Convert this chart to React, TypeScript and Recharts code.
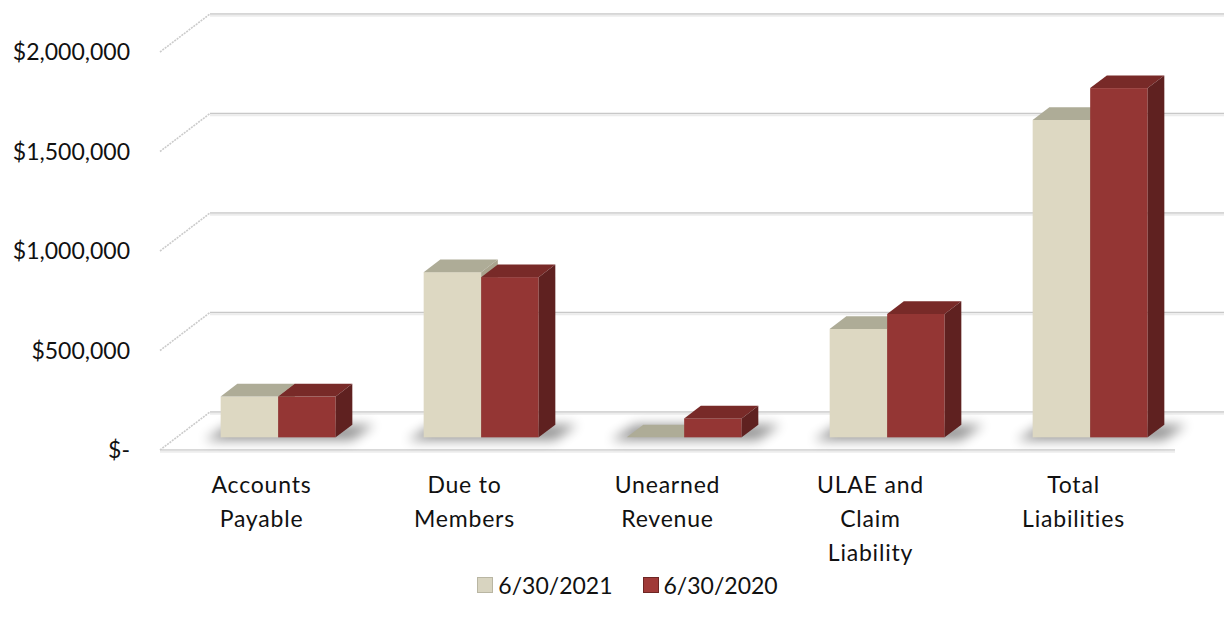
import { BarChart, Bar, XAxis, YAxis, CartesianGrid, Legend } from "recharts";

// categories (line breaks are where the axis label wraps)
const categories = [
  "Accounts\nPayable",
  "Due to\nMembers",
  "Unearned\nRevenue",
  "ULAE and\nClaim\nLiability",
  "Total\nLiabilities",
];
const values2021 = [205000, 830000, 0, 545000, 1595000];
const values2020 = [205000, 805000, 95000, 620000, 1755000];
const yTicks = [0, 500000, 1000000, 1500000, 2000000];
const seriesNames = ["6/30/2021", "6/30/2020"];

const data = categories.map((name, i) => ({
  name,
  y2021: values2021[i],
  y2020: values2020[i],
}));

const FONT = "Lato, 'Open Sans', sans-serif";
const W = 1224;
const H = 625;
const MARGIN = { top: 52, right: 49, bottom: 20, left: 0 };
const PLOT_BOTTOM = 450;

// oblique depth of walls/floor, bars sit in the middle third
const WALL_DX = 50;
const WALL_DY = 38;
const BAR_DX = WALL_DX / 3;
const BAR_DY = WALL_DY / 3;

const C2021 = { front: "#ddd8c2", top: "#aeac97", side: "#a9a48e" };
const C2020 = { front: "#943634", top: "#782a28", side: "#5f2120" };

function Box3D(props: any) {
  const { x, y, width, height, colors, shadow } = props;
  const h = Math.max(height || 0, 0);
  const fx = x + BAR_DX;
  const fy = y - BAR_DY;
  const by = fy + h;
  const tx = fx + BAR_DX;
  const ty = fy - BAR_DY;
  return (
    <g>
      {shadow && (
        <g>
          <defs>
            <filter id="floorShadow" x="-50%" y="-200%" width="200%" height="500%">
              <feGaussianBlur stdDeviation="6" />
            </filter>
          </defs>
          <polygon
            points={`${fx - 16},${by + 3} ${fx + 2 * width + 16},${by + 3} ${fx + 2 * width + BAR_DX + 22},${by - BAR_DY} ${fx + BAR_DX - 8},${by - BAR_DY}`}
            fill="#000"
            opacity={0.42}
            filter="url(#floorShadow)"
          />
        </g>
      )}
      {h > 0.5 && <rect x={fx} y={fy} width={width} height={h} fill={colors.front} />}
      <polygon
        points={`${fx},${fy} ${tx},${ty} ${tx + width},${ty} ${fx + width},${fy}`}
        fill={colors.top}
      />
      {h > 0.5 && (
        <polygon
          points={`${fx + width},${fy} ${tx + width},${ty} ${tx + width},${by - BAR_DY} ${fx + width},${by}`}
          fill={colors.side}
        />
      )}
    </g>
  );
}

function GridLine(props: any) {
  const { x1, x2, y1 } = props;
  const bx1 = x1 + WALL_DX;
  const bx2 = x2 + WALL_DX;
  const by = y1 - WALL_DY;
  const isFloor = Math.abs(y1 - PLOT_BOTTOM) < 1;
  return (
    <g>
      <line x1={x1} y1={y1} x2={bx1} y2={by} stroke="#cbcbcb" strokeWidth={1.6} strokeDasharray="2 1" />
      <line x1={bx1} y1={by} x2={bx2} y2={by} stroke="#c8c8c8" strokeWidth={1.5} />
      <line x1={bx1} y1={by + 1.8} x2={bx2} y2={by + 1.8} stroke="#ececec" strokeWidth={2} />
      {isFloor && (
        <g>
          <line x1={x1} y1={y1} x2={x2} y2={y1} stroke="#cccccc" strokeWidth={1.5} />
          <line x1={x1} y1={y1 + 1.8} x2={x2} y2={y1 + 1.8} stroke="#ededed" strokeWidth={2} />
        </g>
      )}
    </g>
  );
}

function CategoryTick(props: any) {
  const { x, y, payload } = props;
  const lines = String(payload.value).split("\n");
  return (
    <text x={x} y={y + 35} textAnchor="middle" fill="#111" fontSize={23} fontFamily={FONT} letterSpacing={0.8}>
      {lines.map((line, i) => (
        <tspan key={i} x={x} dy={i === 0 ? 0 : 34}>
          {line}
        </tspan>
      ))}
    </text>
  );
}

function LegendContent() {
  const swatches = [
    { name: seriesNames[0], fill: "#d8d4c0", edge: "#b9b6a3" },
    { name: seriesNames[1], fill: "#a03a38", edge: "#6e2624" },
  ];
  return (
    <div
      style={{
        display: "flex",
        justifyContent: "center",
        alignItems: "center",
        gap: 30,
        height: 40,
        paddingLeft: 80,
        fontFamily: FONT,
        fontSize: 23,
        color: "#111",
      }}
    >
      {swatches.map((s) => (
        <div key={s.name} style={{ display: "flex", alignItems: "center", gap: 5 }}>
          <div style={{ width: 14, height: 14, background: s.fill, border: `1px solid ${s.edge}` }} />
          <span>{s.name}</span>
        </div>
      ))}
    </div>
  );
}

export default function App() {
  return (
    <div style={{ position: "absolute", left: 0, top: 0, width: W, height: H, background: "#fff", fontFamily: FONT }}>
      <BarChart width={W} height={H} data={data} margin={MARGIN} barGap={0} barSize={57.5}>
        <CartesianGrid vertical={false} horizontal={(p: any) => <GridLine {...p} />} />
        <XAxis dataKey="name" axisLine={false} tickLine={false} interval={0} height={115} tick={<CategoryTick />} />
        <YAxis
          domain={[0, 2000000]}
          ticks={yTicks}
          width={160}
          axisLine={false}
          tickLine={false}
          tickSize={0}
          tickMargin={30}
          tick={{ fontSize: 23, fill: "#111", fontFamily: FONT }}
          tickFormatter={(v: number) => (v === 0 ? "$-" : "$" + v.toLocaleString("en-US"))}
        />
        <Legend verticalAlign="bottom" content={<LegendContent />} />
        <Bar
          dataKey="y2021"
          name={seriesNames[0]}
          isAnimationActive={false}
          shape={(p: any) => <Box3D {...p} colors={C2021} shadow />}
        />
        <Bar
          dataKey="y2020"
          name={seriesNames[1]}
          isAnimationActive={false}
          shape={(p: any) => <Box3D {...p} colors={C2020} />}
        />
      </BarChart>
    </div>
  );
}
